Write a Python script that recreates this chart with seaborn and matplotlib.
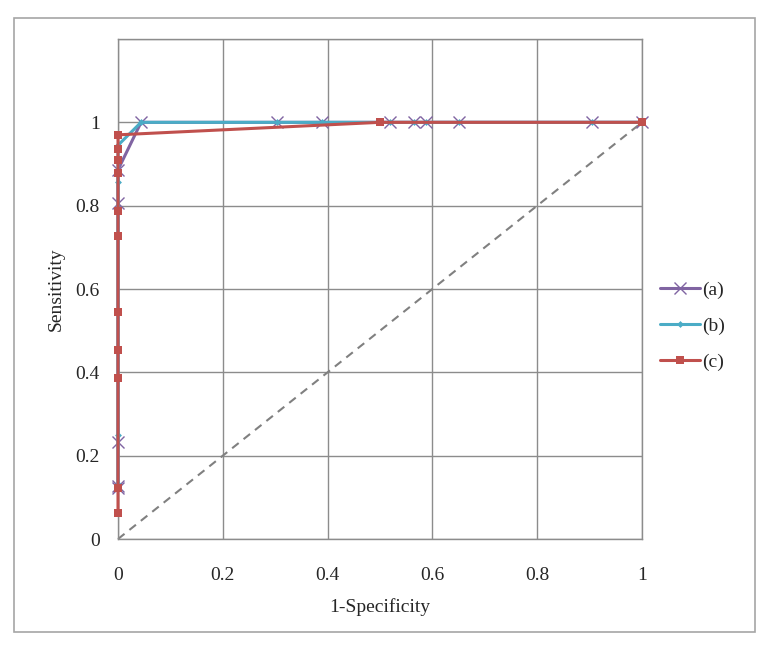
import pandas as pd
import matplotlib.pyplot as plt
import matplotlib.patches as mpatches
import seaborn as sns

# ROC points (1-specificity, sensitivity)
a_fpr = [0, 0, 0, 0, 0, 0.044, 0.304, 0.39, 0.519, 0.564, 0.587, 0.651, 0.905, 1.0]
a_tpr = [0.122, 0.128, 0.234, 0.806, 0.886, 1, 1, 1, 1, 1, 1, 1, 1, 1]

b_fpr = [0, 0, 0, 0, 0.044, 0.304, 0.39, 0.519, 0.564, 0.587, 0.651, 0.905, 1.0]
b_tpr = [0.133, 0.25, 0.857, 0.945, 1, 1, 1, 1, 1, 1, 1, 1, 1]

c_fpr = [0, 0, 0, 0, 0, 0, 0, 0, 0, 0, 0, 0, 0.5, 1.0]
c_tpr = [0.062, 0.122, 0.386, 0.454, 0.545, 0.727, 0.788, 0.879, 0.909, 0.936, 0.970, 0.970, 1, 1]

diag = [0, 1]
series_names = ["(a)", "(b)", "(c)"]
colors = ["#8064A2", "#4BACC6", "#C0504D"]

sns.set_style("white")
plt.rcParams["font.family"] = ["Liberation Serif", "DejaVu Serif"]

fig = plt.figure(figsize=(7.69, 6.52), dpi=100)
ax = fig.add_axes([118 / 769, 113 / 652, 524 / 769, 500 / 652])

# outer chart border
fig.patches.append(mpatches.Rectangle((14 / 769, 20 / 652), 741 / 769, 614 / 652,
                                      transform=fig.transFigure, fill=False,
                                      edgecolor="#A6A6A6", linewidth=1.2))

ax.plot(diag, diag, linestyle=(0, (4, 3)), color="#808080", linewidth=1.5, zorder=2)

styles = [
    dict(marker="x", markersize=8, markeredgewidth=1.0, markeredgecolor="#8064A2"),
    dict(marker="D", markersize=3.5, markeredgewidth=0),
    dict(marker="s", markersize=6, markeredgewidth=0),
]
data = [(a_fpr, a_tpr), (b_fpr, b_tpr), (c_fpr, c_tpr)]
for (xs, ys), name, col, st in zip(data, series_names, colors, styles):
    df = pd.DataFrame({"fpr": xs, "tpr": ys})
    sns.lineplot(data=df, x="fpr", y="tpr", sort=False, estimator=None, color=col,
                 linewidth=2.2, label=name, ax=ax, zorder=3, **st)

for ln in ax.lines:
    ln.set_clip_on(False)

ax.set_xlim(0, 1)
ax.set_ylim(0, 1.2)
ax.set_xticks([0, 0.2, 0.4, 0.6, 0.8, 1.0])
ax.set_xticklabels(["0", "0.2", "0.4", "0.6", "0.8", "1"])
ax.set_yticks([0, 0.2, 0.4, 0.6, 0.8, 1.0, 1.2])
ax.set_yticklabels(["0", "0.2", "0.4", "0.6", "0.8", "1", ""])
ax.grid(True, color="#8C8C8C", linewidth=1.0)
ax.set_axisbelow(True)
for s in ax.spines.values():
    s.set_color("#8C8C8C")
    s.set_linewidth(1.0)
ax.tick_params(axis="y", length=5, color="#8C8C8C", labelsize=14, pad=8)
ax.tick_params(axis="x", length=0, labelsize=14, pad=20)
ax.set_xlabel("1-Specificity", fontsize=14, labelpad=10)
ax.set_ylabel("Sensitivity", fontsize=14, labelpad=8)

ax.legend(loc="center left", bbox_to_anchor=(1.0, 0.426), frameon=False,
          fontsize=14, handlelength=2.1, handletextpad=0.1, labelspacing=0.95)

fig.savefig("out.png", dpi=100)
